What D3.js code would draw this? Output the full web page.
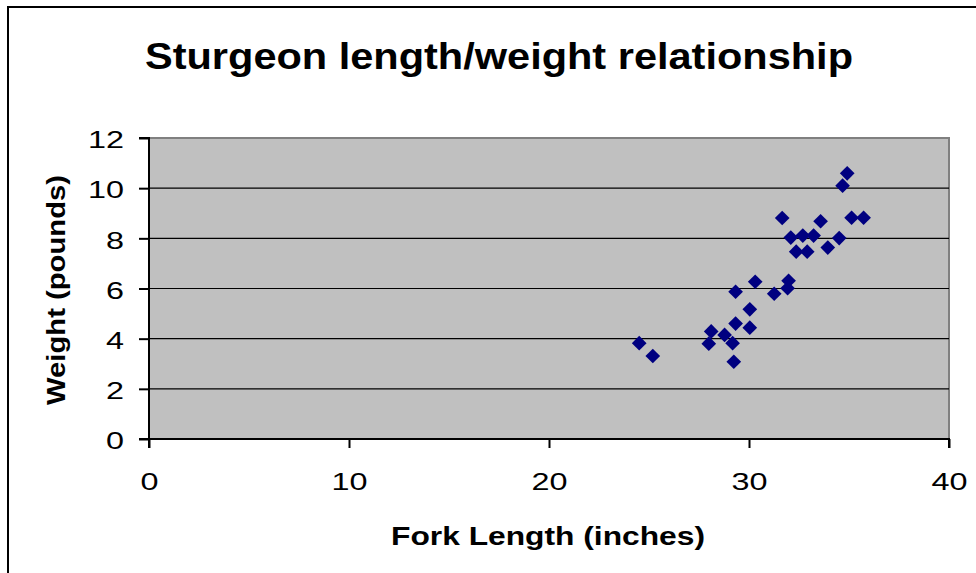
<!DOCTYPE html>
<html>
<head>
<meta charset="utf-8">
<script src="https://cdn.jsdelivr.net/npm/d3@7"></script>
<style>
  html, body { margin: 0; padding: 0; background: #fff; }
  svg { display: block; }
  text { font-family: "Liberation Sans", Arial, sans-serif; }
</style>
</head>
<body>
<svg id="chart" width="976" height="573"></svg>
<script>
const title = "Sturgeon length/weight relationship";
const xTitle = "Fork Length (inches)";
const yTitle = "Weight (pounds)";
const xTicks = [0, 10, 20, 30, 40];
const yTicks = [0, 2, 4, 6, 8, 10, 12];

const forkLength = [34.91, 34.68, 31.66, 33.58, 35.13, 35.73, 32.09, 32.69, 33.23, 34.51,
                    32.36, 32.91, 33.94, 30.31, 29.33, 31.26, 31.98, 31.93, 30.04, 29.33,
                    30.04, 28.11, 28.78, 27.99, 29.18, 29.24, 24.51, 25.19];
const weight =     [10.59, 10.10, 8.81, 8.68, 8.82, 8.82, 8.03, 8.11, 8.11, 8.01,
                    7.47, 7.47, 7.63, 6.27, 5.87, 5.79, 6.31, 6.01, 5.17, 4.60,
                    4.44, 4.29, 4.15, 3.80, 3.82, 3.08, 3.82, 3.31];

const svg = d3.select("#chart");
const STRETCH = 1.32;

function stretch(sel, factor) {
  sel.each(function () {
    const w = this.getComputedTextLength();
    d3.select(this).attr("textLength", w * factor).attr("lengthAdjust", "spacingAndGlyphs");
  });
}

// outer frame (extends beyond right/bottom edges)
svg.append("rect")
  .attr("x", 8).attr("y", 7).attr("width", 1000).attr("height", 600)
  .attr("fill", "#fff").attr("stroke", "#000").attr("stroke-width", 2);

const pLeft = 149, pRight = 949, pTop = 138, pBottom = 439;
const x = d3.scaleLinear().domain([0, 40]).range([pLeft, pRight]);
const y = d3.scaleLinear().domain([0, 12]).range([pBottom, pTop]);

// plot area
svg.append("rect")
  .attr("x", pLeft).attr("y", pTop)
  .attr("width", pRight - pLeft).attr("height", pBottom - pTop)
  .attr("fill", "#C0C0C0").attr("stroke", "#808080").attr("stroke-width", 2);

// gridlines
svg.append("g")
  .selectAll("line")
  .data(yTicks.filter(d => d > 0 && d < 12))
  .join("line")
  .attr("x1", pLeft).attr("x2", pRight)
  .attr("y1", d => y(d)).attr("y2", d => y(d))
  .attr("stroke", "#000").attr("stroke-width", 1.2);

// axes
const yAxis = d3.axisLeft(y).tickValues(yTicks).tickSize(10).tickPadding(15).tickFormat(d3.format("d"));
const xAxis = d3.axisBottom(x).tickValues(xTicks).tickSize(9).tickPadding(25).tickFormat(d3.format("d"));

const gy = svg.append("g").attr("transform", `translate(${pLeft},0)`).call(yAxis);
const gx = svg.append("g").attr("transform", `translate(0,${pBottom})`).call(xAxis);

[gx, gy].forEach(g => {
  g.select(".domain").attr("stroke", "#000").attr("stroke-width", 2);
  g.selectAll(".tick line").attr("stroke", "#000").attr("stroke-width", 2);
  g.selectAll(".tick text")
    .attr("fill", "#000")
    .style("font-family", '"Liberation Sans", Arial, sans-serif')
    .style("font-size", "24.5px");
  stretch(g.selectAll(".tick text"), STRETCH);
});
gy.selectAll(".tick text").attr("dy", "0.4em");
gy.select(".domain").attr("d", `M-10,${pTop}H0V${pBottom}H-10`);
gx.select(".domain").attr("d", `M${pLeft},9V0H${pRight}V9`);

// points
const diamond = d3.symbol().type(d3.symbolSquare).size(108);
svg.append("g")
  .selectAll("path")
  .data(forkLength.map((v, i) => ({ x: v, y: weight[i] })))
  .join("path")
  .attr("d", diamond)
  .attr("transform", d => `translate(${x(d.x)},${y(d.y)}) rotate(45)`)
  .attr("fill", "#000080");

// title
svg.append("text")
  .attr("x", 499).attr("y", 69)
  .attr("text-anchor", "middle")
  .attr("textLength", 708).attr("lengthAdjust", "spacingAndGlyphs")
  .style("font-size", "36px").style("font-weight", "bold")
  .text(title);

// axis titles
svg.append("text")
  .attr("x", 548).attr("y", 545)
  .attr("text-anchor", "middle")
  .attr("textLength", 314).attr("lengthAdjust", "spacingAndGlyphs")
  .style("font-size", "26px").style("font-weight", "bold")
  .text(xTitle);

svg.append("text")
  .attr("transform", `translate(65,290) rotate(-90)`)
  .attr("text-anchor", "middle")
  .attr("textLength", 230).attr("lengthAdjust", "spacingAndGlyphs")
  .style("font-size", "26px").style("font-weight", "bold")
  .text(yTitle);
</script>
</body>
</html>
